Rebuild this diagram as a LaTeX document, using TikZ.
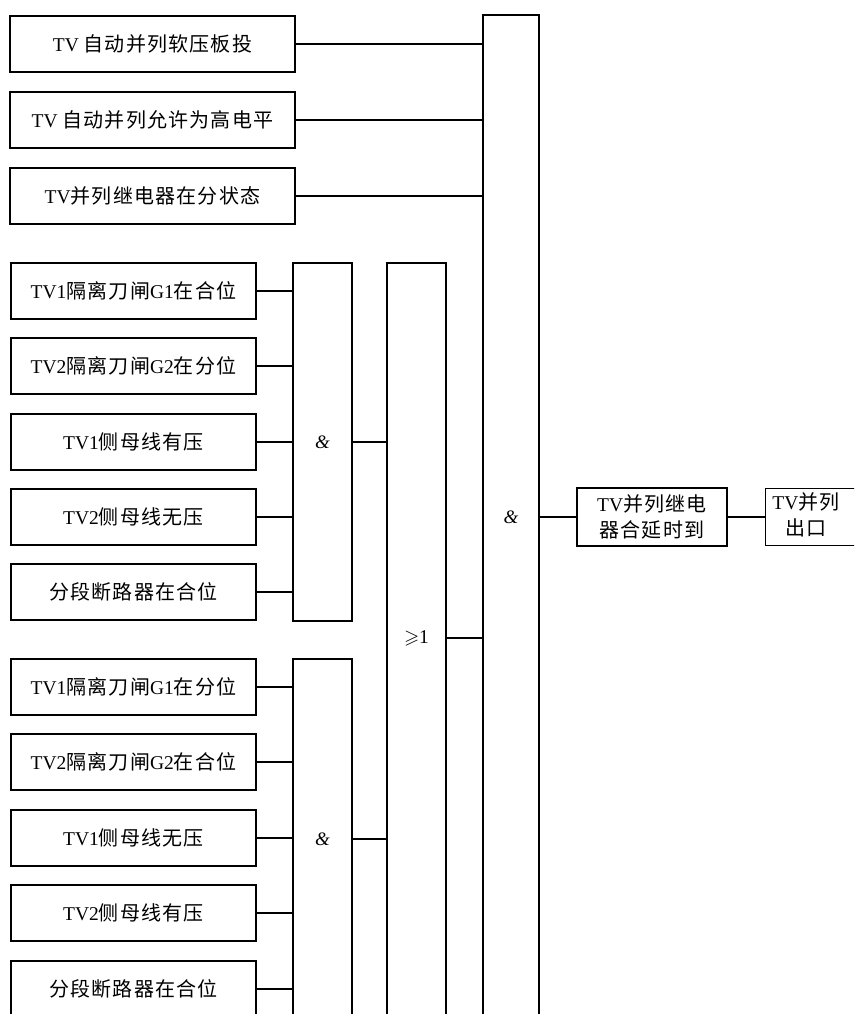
\documentclass[tikz,border=0pt]{standalone}
\usepackage{amssymb}
\usepackage{fontspec}
\setmainfont{Liberation Serif}
\newfontfamily\cjkfont[LetterSpace=6]{Noto Sans CJK SC}
\newcommand\zhtxt[1]{{\fontsize{20}{26}\cjkfont #1}}
\begin{document}
\begin{tikzpicture}[x=1pt,y=-1pt,line width=1.4pt,
  every node/.style={font=\fontsize{19.5}{26}\selectfont, inner sep=0pt},
  inbox/.style={draw, minimum width=245pt, minimum height=56pt},
  topbox/.style={draw, minimum width=285pt, minimum height=56pt},
  gatebox/.style={draw, minimum width=59pt},
  gatelab/.style={font=\fontsize{19}{24}\selectfont\itshape},
  wire/.style={line width=1.4pt}]
\useasboundingbox (0,0) rectangle (854,1014);
\clip (0,0) rectangle (854,1014);

% top inputs
\node[topbox] (t1) at (152.5,44) {TV \zhtxt{自动并列软压板投}};
\node[topbox] (t2) at (152.5,120) {TV \zhtxt{自动并列允许为高电平}};
\node[topbox] (t3) at (152.5,196) {TV\zhtxt{并列继电器在分状态}};

% big AND gate
\node[gatebox, minimum width=56pt, minimum height=1004pt] (big) at (511,517) {};
\node[gatelab] (bigL) at (511,517) {\&};

% middle group
\node[inbox] (m1) at (133.5,291) {TV1\zhtxt{隔离刀闸}G1\zhtxt{在合位}};
\node[inbox] (m2) at (133.5,366) {TV2\zhtxt{隔离刀闸}G2\zhtxt{在分位}};
\node[inbox] (m3) at (133.5,442) {TV1\zhtxt{侧母线有压}};
\node[inbox] (m4) at (133.5,517) {TV2\zhtxt{侧母线无压}};
\node[inbox] (m5) at (133.5,592) {\zhtxt{分段断路器在合位}};
\node[gatebox, minimum height=358pt] (and1) at (322.5,442) {};
\node[gatelab] (and1L) at (322.5,442) {\&};

% OR gate
\node[gatebox, minimum height=774pt] (ge) at (416.5,650) {};
\node (geL) at (416.5,638) {$\geqslant$1};

% bottom group
\node[inbox] (b1) at (133.5,687) {TV1\zhtxt{隔离刀闸}G1\zhtxt{在分位}};
\node[inbox] (b2) at (133.5,762) {TV2\zhtxt{隔离刀闸}G2\zhtxt{在合位}};
\node[inbox] (b3) at (133.5,838) {TV1\zhtxt{侧母线无压}};
\node[inbox] (b4) at (133.5,913) {TV2\zhtxt{侧母线有压}};
\node[inbox] (b5) at (133.5,989) {\zhtxt{分段断路器在合位}};
\node[gatebox, minimum height=360pt] (and2) at (322.5,839) {};
\node[gatelab] (and2L) at (322.5,839) {\&};

% delay and output
\node[draw, minimum width=150pt, minimum height=58pt, align=center] (delay) at (652,517)
  {TV\zhtxt{并列继电}\\\zhtxt{器合延时到}};
\node[draw, minimum width=140pt, minimum height=57pt, anchor=west] (out) at (765,517) {};
\node[align=center] (outL) at (806,515) {TV\zhtxt{并列}\\\zhtxt{出口}};

% wires
\foreach \n in {t1,t2,t3} \draw[wire] (\n.east) -- (big.west |- \n.east);
\foreach \n in {m1,m2,m3,m4,m5} \draw[wire] (\n.east) -- (and1.west |- \n.east);
\foreach \n in {b1,b2,b3,b5} \draw[wire] (\n.east) -- (and2.west |- \n.east);
\draw[wire] (b4.east) -- ([xshift=2pt]and2.west |- b4.east);
\draw[wire] (and1.east) -- (ge.west |- and1.east);
\draw[wire] (and2.east) -- (ge.west |- and2.east);
\draw[wire] (ge.east |- geL) -- (big.west |- geL);
\draw[wire] (big.east |- delay.west) -- (delay.west);
\draw[wire] (delay.east) -- (out.west);
\end{tikzpicture}
\end{document}
